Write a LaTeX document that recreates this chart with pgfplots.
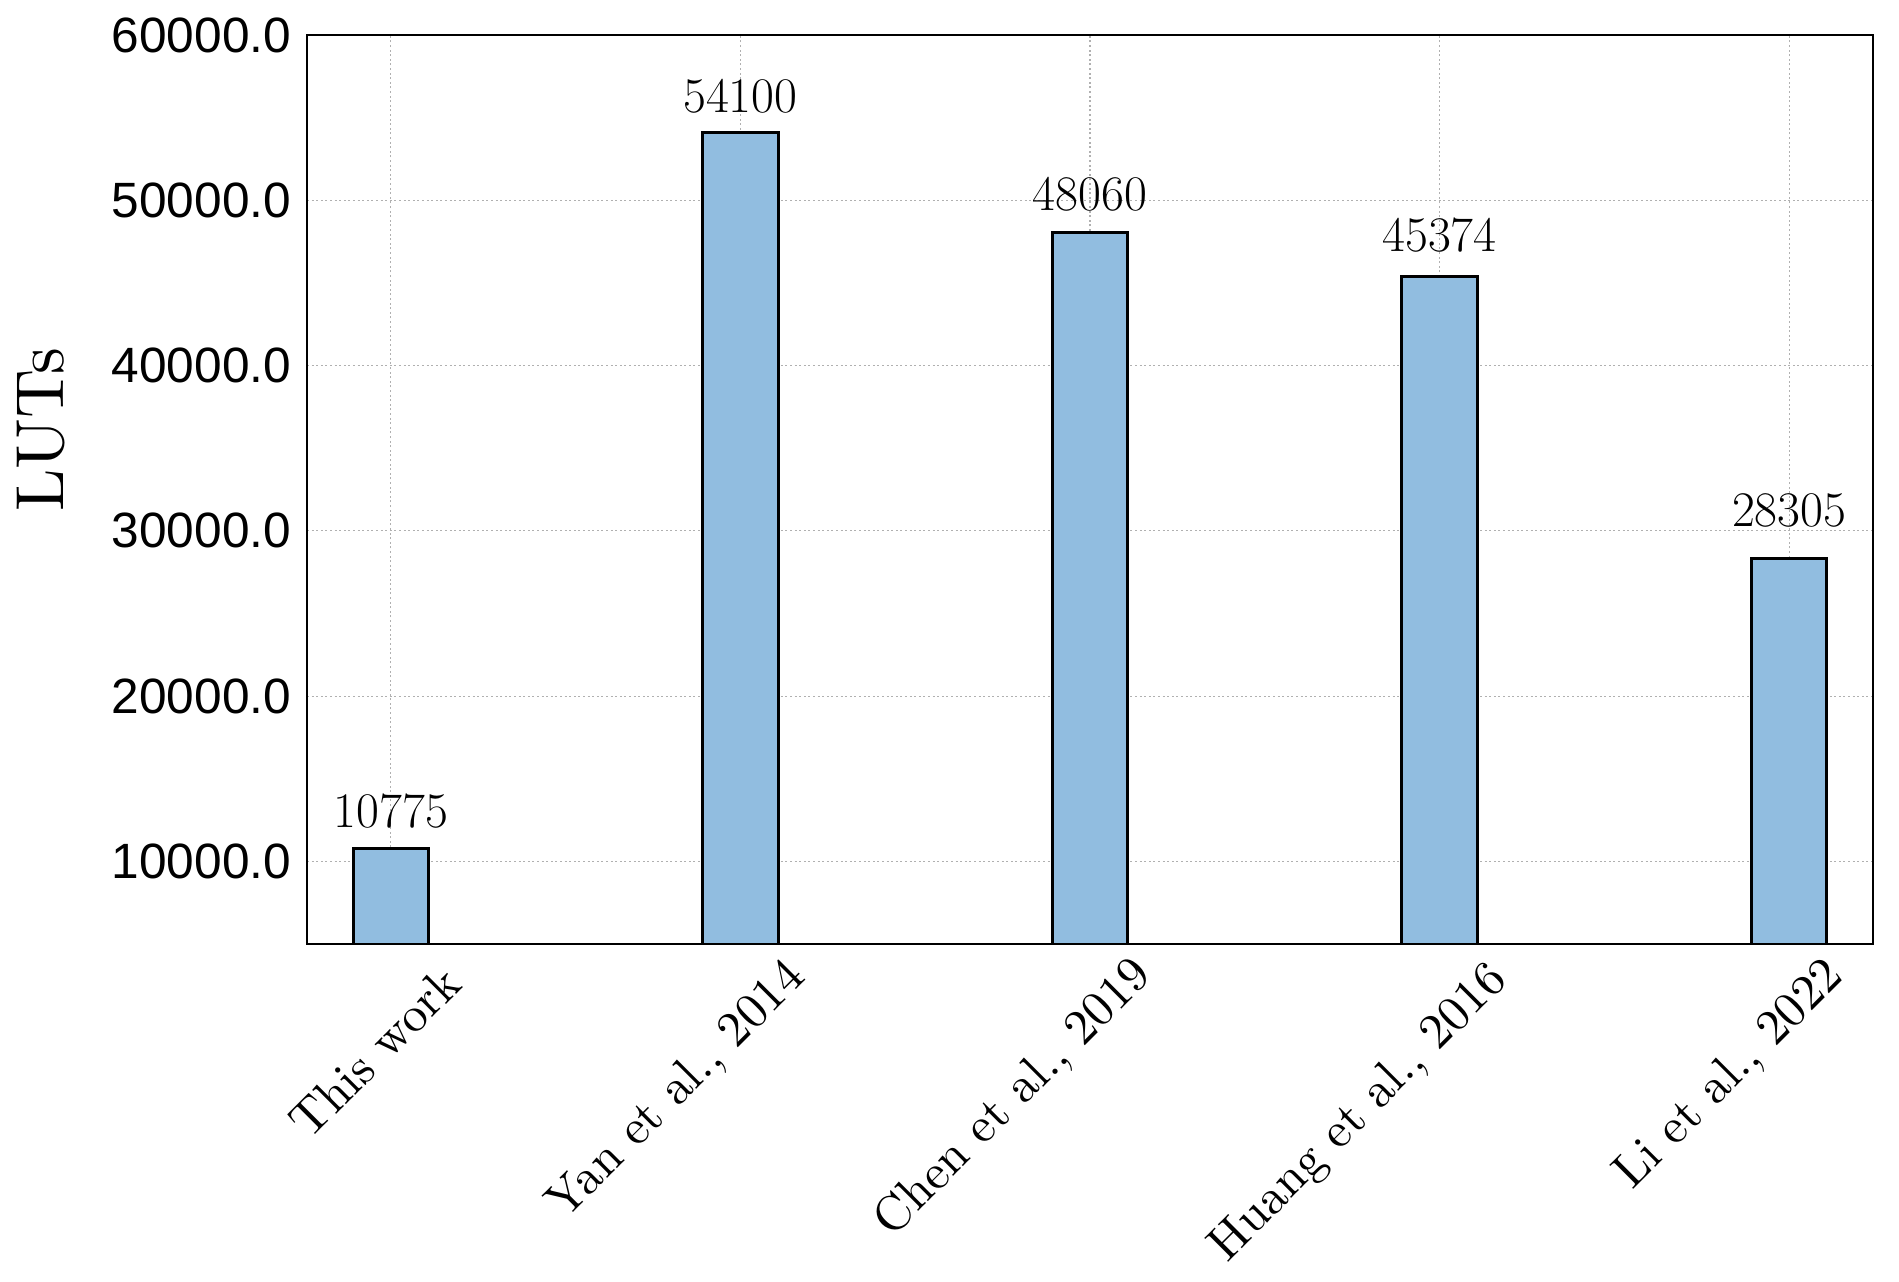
\documentclass[border=0pt]{standalone}
\usepackage{fontspec}
\usepackage{pgfplots}
\usepackage{pgfplotstable}
\pgfplotsset{compat=1.18}
\newfontfamily\tickfont{Liberation Sans}
\newfontfamily\lmten{lmroman10-regular}[Extension=.otf]
\definecolor{barblue}{RGB}{145,189,224}
\definecolor{gridgray}{RGB}{176,176,176}
\pgfplotstableread{
x y s
0 10775 10.3
1 54100 10
2 48060 10.75
3 45374 12.5
4 28305 16
}\lutdata
\begin{document}
\begin{tikzpicture}
\path[use as bounding box] (-153.5pt,-168.5pt) rectangle (796pt,472pt);
\begin{axis}[
  at={(0,0)}, anchor=south west,
  scale only axis,
  width=783pt, height=454.5pt,
  xmin=-0.24, xmax=4.24,
  ymin=5000, ymax=60000,
  scaled y ticks=false,
  axis line style={line width=1.2pt},
  major tick length=0pt,
  xtick={0,1,2,3,4},
  xticklabels={This work,{Yan et al., 2014},{Chen et al., 2019},{Huang et al., 2016},{Li et al., 2022}},
  x tick label style={font=\lmten\fontsize{24.8}{30}\selectfont, rotate=45, anchor=north east, inner sep=0pt,
    xshift={{10.96,11.2,10.96,11.46,8.13}[\ticknum]},
    yshift={{-23.48,-18.4,-16.41,-20.44,-14.29}[\ticknum]}},
  ytick={10000,20000,30000,40000,50000,60000},
  yticklabels={10000.0,20000.0,30000.0,40000.0,50000.0,60000.0},
  y tick label style={font=\tickfont\fontsize{24.8}{30}\selectfont, anchor=east, inner sep=0pt, xshift=-7.8pt},
  grid=major,
  major grid style={gridgray, line width=0.6pt, dash pattern=on 1pt off 1.3pt},
  ybar,
  bar width=0.215,
  visualization depends on={\thisrow{s} \as \labshift},
  nodes near coords={\pgfmathprintnumber[fixed,precision=0,1000 sep={}]{\pgfplotspointmeta}},
  every node near coord/.append style={font=\lmten\fontsize{26}{31}\selectfont, anchor=base, inner sep=0pt, yshift=\labshift pt},
]
\addplot[fill=barblue, draw=black, line width=1.5pt] table[x=x, y=y] {\lutdata};
\end{axis}
\node[rotate=90, font=\lmten\fontsize{34}{41}\selectfont] at (-133pt,257pt) {LUTs};
\end{tikzpicture}
\end{document}
